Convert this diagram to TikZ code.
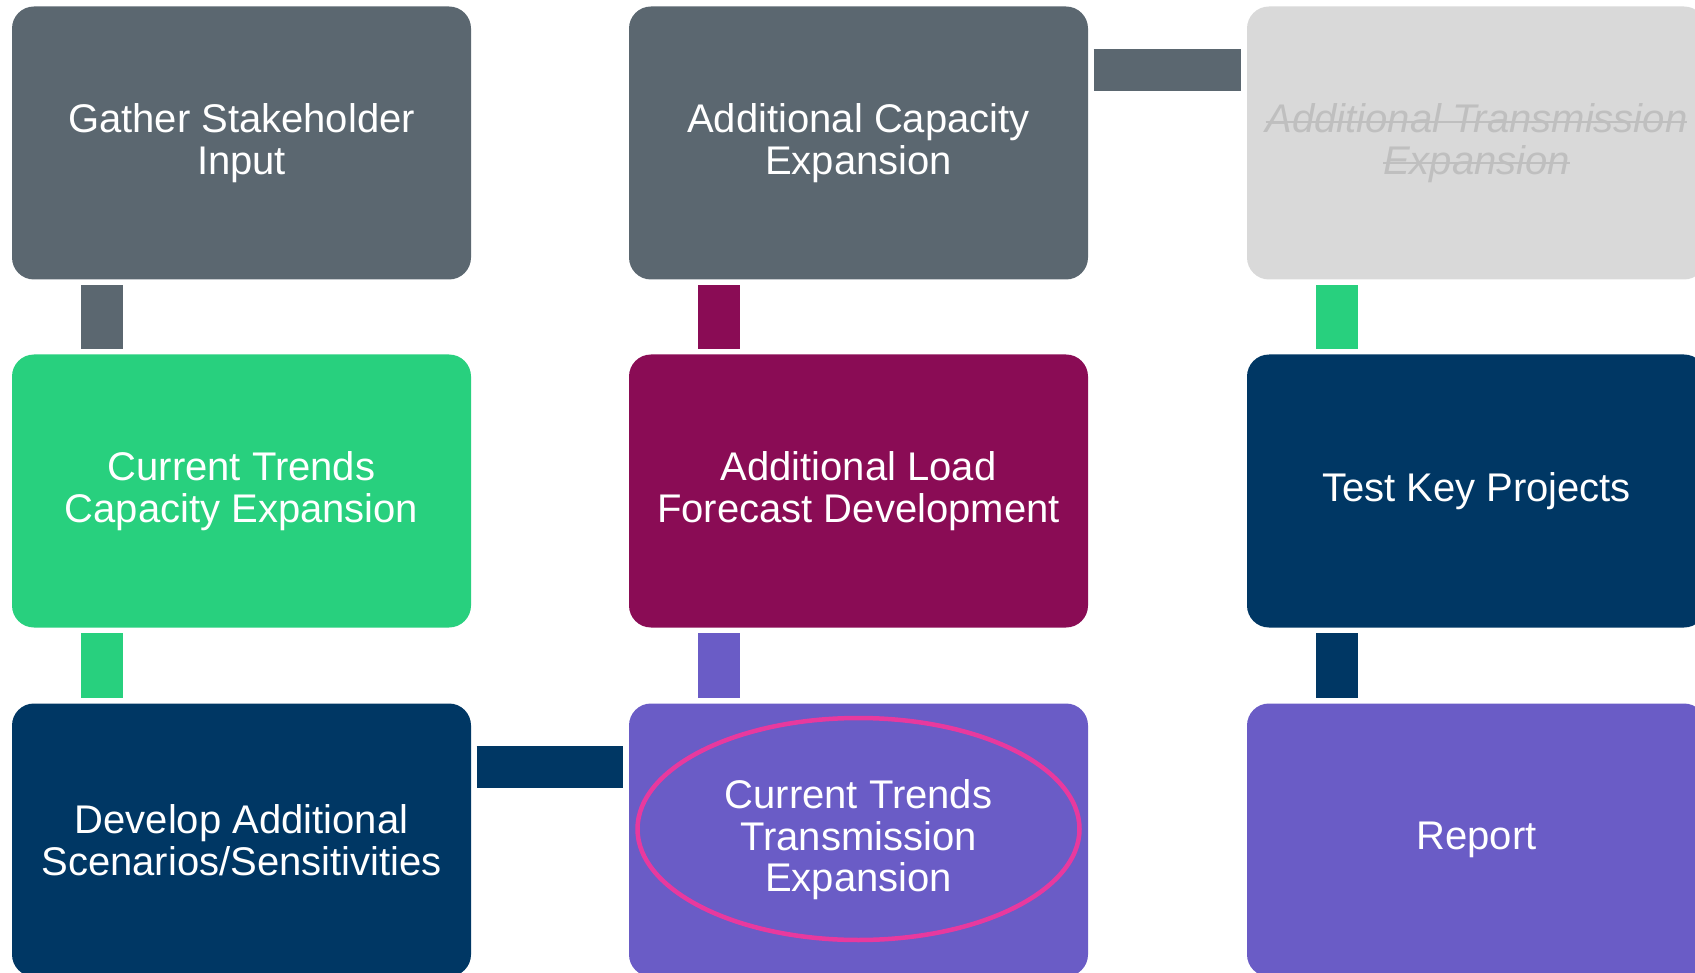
\documentclass[tikz,border=0pt]{standalone}
\usepackage{fontspec}
\setmainfont{Liberation Sans}
\newsavebox\strkbox
\newcommand{\strikeout}[1]{\sbox\strkbox{#1}\rlap{\rule[0.25em]{\wd\strkbox}{1.6pt}}\usebox\strkbox}
\definecolor{slate}{HTML}{5B6770}
\definecolor{mint}{HTML}{28D07E}
\definecolor{plum}{HTML}{8A0C55}
\definecolor{navy}{HTML}{003764}
\definecolor{violet}{HTML}{6A5CC6}
\definecolor{pale}{HTML}{D9D9D9}
\definecolor{strk}{HTML}{BFBFBF}
\definecolor{pink}{HTML}{E8399E}

\begin{document}
\begin{tikzpicture}[x=1pt,y=-1pt,
	box/.style={rectangle, rounded corners=22pt, minimum width=459pt, minimum height=273pt,
		inner sep=0pt, align=center, text=white, font=\fontsize{40}{41.5}\selectfont},
	link/.style={line width=42pt, shorten <=5.5pt, shorten >=5.5pt},
	ring/.style={draw=pink, line width=4.5pt}]
	\useasboundingbox (0,0) rectangle (1695,973);
	\clip (0,0) rectangle (1695,973);
	\node[box, fill=slate] (G1) at (241.5,143) {Gather Stakeholder\\Input};
	\node[box, fill=mint] (C1) at (241.5,491) {Current Trends\\Capacity Expansion};
	\node[box, fill=navy] (D1) at (241.5,840) {Develop Additional\\Scenarios/Sensitivities};
	\node[box, fill=slate] (A2) at (858.5,143) {Additional Capacity\\Expansion};
	\node[box, fill=plum] (L2) at (858.5,491) {Additional Load\\Forecast Development};
	\node[box, fill=violet] (T2) at (858.5,840) {Current Trends\\Transmission\\Expansion};
	\node[box, fill=pale, text=strk, font=\fontsize{40}{41.5}\selectfont\itshape] (X3) at (1476.5,143)
		{\strikeout{Additional Transmission}\\\strikeout{Expansion}};
	\node[box, fill=navy] (K3) at (1476.5,491) {Test Key Projects};
	\node[box, fill=violet] (R3) at (1476.5,840) {Report};
	\draw [link, slate] ([xshift=-139.5pt]G1.south) -- ([xshift=-139.5pt]C1.north);
	\draw [link, mint] ([xshift=-139.5pt]C1.south) -- ([xshift=-139.5pt]D1.north);
	\draw [link, navy] ([yshift=73pt]D1.east) -- ([yshift=73pt]T2.west);
	\draw [link, violet] ([xshift=-139.5pt]T2.north) -- ([xshift=-139.5pt]L2.south);
	\draw [link, plum] ([xshift=-139.5pt]L2.north) -- ([xshift=-139.5pt]A2.south);
	\draw [link, slate] ([yshift=73pt]A2.east) -- ([yshift=73pt]X3.west);
	\draw [link, mint] ([xshift=-139.5pt]X3.south) -- ([xshift=-139.5pt]K3.north);
	\draw [link, navy] ([xshift=-139.5pt]K3.south) -- ([xshift=-139.5pt]R3.north);
	\draw [ring] ([yshift=11pt]T2.center) ellipse [x radius=221pt, y radius=111pt];
\end{tikzpicture}
\end{document}
